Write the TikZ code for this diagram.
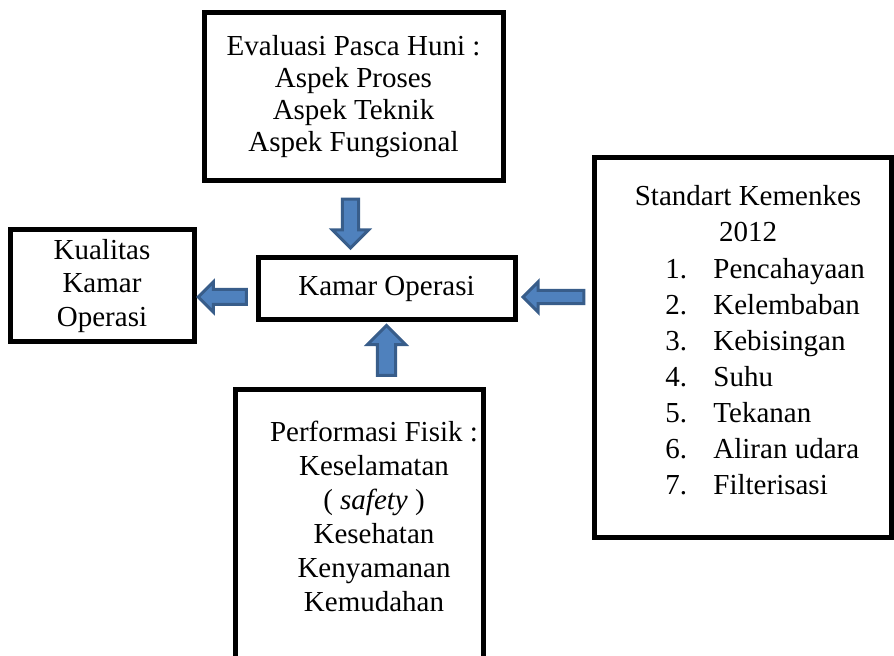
\documentclass[tikz,border=0pt]{standalone}
\usepackage{fontspec}
\setmainfont{Liberation Serif}
\usetikzlibrary{shapes.arrows,calc}
\definecolor{arrowfill}{HTML}{4F81BD}
\definecolor{arrowline}{HTML}{385D8A}
\tikzset{
  frame/.style={draw,line width=2.5pt,inner sep=0pt,align=center},
  barrow/.style={single arrow,draw=arrowline,fill=arrowfill,line width=1.5pt,inner xsep=0pt},
}
\begin{document}
\begin{tikzpicture}[x=.5pt,y=-.5pt,font=\fontsize{14.5}{16}\selectfont]
\useasboundingbox (0,0) rectangle (894,656);
\clip (0,0) rectangle (894,656);
% boxes
\node[frame,minimum width=149.5pt,minimum height=84pt] (evalbox) at (353.5,97) {Evaluasi Pasca Huni :\\Aspek Proses\\Aspek Teknik\\Aspek Fungsional};
\node[frame,minimum width=128.5pt,minimum height=31pt] (kamar) at (386.5,289) {Kamar Operasi};
\node[frame,minimum width=92pt,minimum height=56pt,font=\fontsize{14.5}{16.8}\selectfont] (kualitas) at (102,286) {Kualitas\\Kamar\\Operasi};
\node[frame,minimum width=123.75pt,minimum height=140pt] (fisikbox) at (359.25,530) {};
\node[align=center,font=\fontsize{14.5}{17}\selectfont] (fisik) at (374,516) {Performasi Fisik :\\Keselamatan\\( \textit{safety} )\\Kesehatan\\Kenyamanan\\Kemudahan};
\node[frame,minimum width=148.5pt,minimum height=190.25pt] (stdbox) at (743,347.75) {};
\node[align=center,font=\fontsize{14.5}{18}\selectfont] (std) at (748,214) {Standart Kemenkes\\2012};
\foreach \i/\t in {1/Pencahayaan,2/Kelembaban,3/Kebisingan,4/Suhu,5/Tekanan,6/Aliran udara,7/Filterisasi}{
  \node[anchor=base west,inner sep=0pt] (num\i) at (665,{279+36*(\i-1)}) {\i.};
  \node[anchor=base west,inner sep=0pt] (item\i) at (713,{279+36*(\i-1)}) {\t};
}
% block arrows
\node[barrow,rotate=-90,inner ysep=3.3pt,minimum height=24.5pt,minimum width=16.5pt,single arrow head extend=5pt] (arrEval) at ($(evalbox.south)!.5!(evalbox.south|-kamar.north)+(-3,0)$) {};
\node[barrow,rotate=90,inner ysep=3.8pt,minimum height=25pt,minimum width=17.5pt,single arrow head extend=5pt] (arrFisik) at ($(kamar.south)!.5!(kamar.south|-fisikbox.north)+(0,0)$) {};
\node[barrow,rotate=180,inner ysep=3pt,minimum height=24pt,minimum width=13.5pt,single arrow head extend=3.75pt] (arrKualitas) at ($(kualitas.east)!.5!(kamar.west)+(0,9.5)$) {};
\node[barrow,rotate=180,inner ysep=2.6pt,minimum height=30.5pt,minimum width=13.5pt,single arrow head extend=4.25pt] (arrStd) at ($(kamar.east)!.5!(kamar.east-|stdbox.west)+(2,8)$) {};
\end{tikzpicture}
\end{document}
